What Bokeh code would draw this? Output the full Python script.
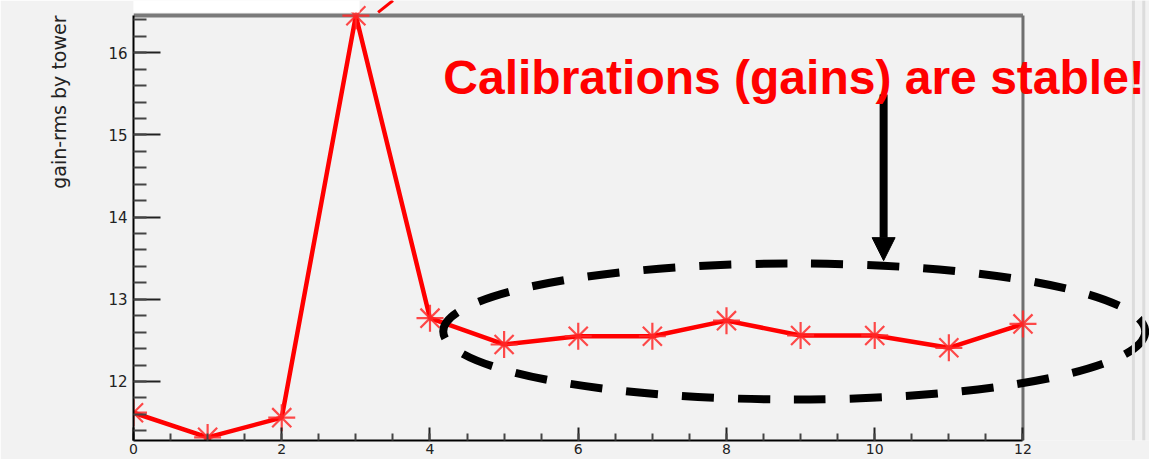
import numpy as np
from bokeh.plotting import figure
from bokeh.models import (FixedTicker, Label, Arrow, NormalHead, BoxAnnotation,
                          Span, Range1d, Title)
from bokeh.embed import file_html
from bokeh.resources import INLINE

# gain RMS by tower for each run index
runs = [0, 1, 2, 3, 4, 5, 6, 7, 8, 9, 10, 11, 12]
gain_rms = [11.62, 11.32, 11.56, 16.45, 12.77, 12.45, 12.55, 12.55,
            12.74, 12.56, 12.56, 12.41, 12.70]

x_major = [0, 2, 4, 6, 8, 10, 12]
y_major = [12, 13, 14, 15, 16]

# axis extents of the histogram frame
X_LO, X_HI = 0.0, 12.0
Y_LO, Y_HI = 11.282, 16.454

p = figure(width=1149, height=459, output_backend="svg", toolbar_location=None,
           x_range=Range1d(0, 13.707), y_range=Range1d(Y_LO, 16.635),
           min_border_left=133, min_border_right=0, min_border_top=0,
           min_border_bottom=19,
           background_fill_color="#f2f2f2", border_fill_color="#f2f2f2",
           outline_line_color=None)
p.grid.visible = False

# axes styled like a ROOT canvas: ticks pointing inward
xa = p.xaxis[0]
xa.bounds = (X_LO, X_HI)
xa.ticker = FixedTicker(ticks=x_major,
                        minor_ticks=list(np.arange(X_LO, X_HI + 0.01, 0.5)))
xa.axis_line_color = "black"
xa.axis_line_width = 2
xa.major_tick_in = 13
xa.major_tick_out = 0
xa.minor_tick_in = 7
xa.minor_tick_out = 0
xa.major_tick_line_color = "#222222"
xa.minor_tick_line_color = "#444444"
xa.major_tick_line_width = 2
xa.minor_tick_line_width = 2
xa.major_label_text_font = "DejaVu Sans"
xa.major_label_text_font_size = "14px"
xa.major_label_text_color = "#222222"
xa.major_label_standoff = 3

ya = p.yaxis[0]
ya.bounds = (Y_LO, Y_HI)
ya.ticker = FixedTicker(ticks=y_major,
                        minor_ticks=list(np.arange(11.4, 16.45, 0.2)))
ya.axis_line_color = "black"
ya.axis_line_width = 2
ya.major_tick_in = 27
ya.major_tick_out = 0
ya.minor_tick_in = 13
ya.minor_tick_out = 0
ya.major_tick_line_color = "#222222"
ya.minor_tick_line_color = "#444444"
ya.major_tick_line_width = 2
ya.minor_tick_line_width = 2
ya.major_label_text_font = "DejaVu Sans"
ya.major_label_text_font_size = "15px"
ya.major_label_text_color = "#222222"
ya.major_label_standoff = 6

# y-axis title, pushed toward the top end like ROOT does
p.add_layout(Title(text="gain-rms by tower", align="right", offset=15,
                   vertical_align="top", standoff=68,
                   text_font="DejaVu Sans", text_font_size="19px",
                   text_font_style="normal", text_color="#222222"), "left")

# page decoration: white strip above, panel edges on the right
p.add_layout(BoxAnnotation(left=-1.8, right=3.05, bottom=16.49, top=16.7,
                           fill_color="white", fill_alpha=1.0, line_color=None))
p.add_layout(Span(location=13.49, dimension="height", line_color="#dcdcdc",
                  line_width=3))
p.add_layout(Span(location=13.63, dimension="height", line_color="#dcdcdc",
                  line_width=3))

# frame border (top and right)
p.segment(x0=[X_LO], y0=[Y_HI], x1=[X_HI], y1=[Y_HI],
          line_color="#7a7a7a", line_width=4)
p.segment(x0=[X_HI], y0=[Y_LO], x1=[X_HI], y1=[Y_HI],
          line_color="#707070", line_width=3)

# red circling stroke around the spike, mostly off the top
p.line([3.50, 3.30], [16.635, 16.49], line_color="red", line_width=3)

# data
p.line(runs, gain_rms, line_color="red", line_width=4.5)
p.scatter(runs, gain_rms, marker="asterisk", size=27,
          line_color="#ff2a2a", line_width=2.2, line_alpha=0.85)

# highlight of the stable region
p.ellipse(x=8.914, y=12.608, width=9.47, height=1.655, fill_color=None,
          line_color="black", line_width=8, line_dash="32 24")

p.add_layout(Arrow(end=NormalHead(size=23, fill_color="black",
                                  line_color="black"),
                   x_start=10.12, y_start=15.49, x_end=10.12, y_end=13.47,
                   line_color="black", line_width=8))

p.add_layout(Label(x=4.18, y=15.70, text="Calibrations (gains) are stable!",
                   text_font="Liberation Sans", text_font_style="bold",
                   text_font_size="48px", text_color="red",
                   text_baseline="alphabetic", text_align="left"))

open("out.html", "w").write(file_html(p, INLINE))
